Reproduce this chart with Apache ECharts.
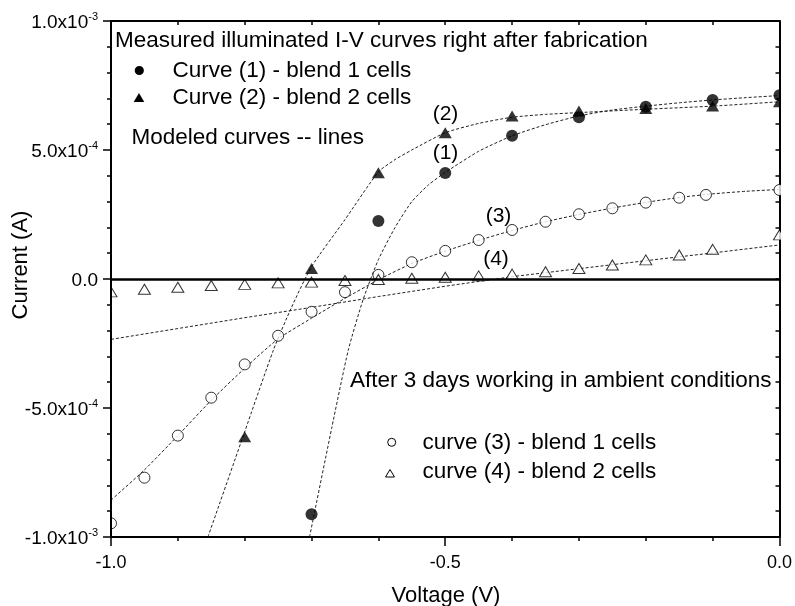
<!DOCTYPE html>
<html>
<head>
<meta charset="utf-8">
<script src="https://cdn.jsdelivr.net/npm/echarts@6/dist/echarts.min.js"></script>
<style>
html,body{margin:0;padding:0;background:#fff;}
#chart{width:795px;height:606px;}
</style>
</head>
<body>
<div id="chart"></div>
<script>
// Units: current values are in mA (x1e-3 A); converted to A below.
const UNIT = 1e-3;

// Measured curve (1) - blend 1 cells (filled circles)
const c1V = [-0.7, -0.6, -0.5, -0.4, -0.3, -0.2, -0.1, 0];
const c1I = [-0.912, 0.225, 0.411, 0.555, 0.627, 0.668, 0.694, 0.712];

// Measured curve (2) - blend 2 cells (filled triangles)
const c2V = [-0.8, -0.7, -0.6, -0.5, -0.4, -0.3, -0.2, -0.1, 0];
const c2I = [-0.611, 0.041, 0.412, 0.567, 0.632, 0.651, 0.661, 0.671, 0.687];

// Curve (3) - blend 1 cells after 3 days (open circles)
const c3V = [-1.0, -0.95, -0.9, -0.85, -0.8, -0.75, -0.7, -0.65, -0.6, -0.55, -0.5, -0.45, -0.4, -0.35, -0.3, -0.25, -0.2, -0.15, -0.11, 0];
const c3I = [-0.947, -0.770, -0.607, -0.460, -0.331, -0.220, -0.127, -0.051, 0.016, 0.065, 0.109, 0.151, 0.190, 0.222, 0.251, 0.274, 0.296, 0.315, 0.326, 0.345];

// Curve (4) - blend 2 cells after 3 days (open triangles)
const c4V = [-1.0, -0.95, -0.9, -0.85, -0.8, -0.75, -0.7, -0.65, -0.6, -0.55, -0.5, -0.45, -0.4, -0.35, -0.3, -0.25, -0.2, -0.15, -0.1, 0];
const c4I = [-0.050, -0.040, -0.032, -0.025, -0.021, -0.015, -0.012, -0.006, -0.002, 0.003, 0.007, 0.012, 0.019, 0.028, 0.041, 0.054, 0.074, 0.093, 0.115, 0.171];

// Modeled curves (dashed lines)
const m1V = [-0.703, -0.67, -0.645, -0.623, -0.6, -0.575, -0.55, -0.525, -0.5, -0.45, -0.4, -0.35, -0.3, -0.25, -0.2, -0.15, -0.1, -0.05, 0];
const m1I = [-1.0, -0.58, -0.275, -0.081, 0.075, 0.2, 0.3, 0.365, 0.413, 0.495, 0.555, 0.598, 0.632, 0.655, 0.670, 0.683, 0.694, 0.703, 0.711];

const m2V = [-0.855, -0.8, -0.757, -0.73, -0.7, -0.65, -0.6, -0.575, -0.55, -0.5, -0.45, -0.4, -0.35, -0.3, -0.2, -0.1, 0];
const m2I = [-1.0, -0.592, -0.275, -0.11, 0.048, 0.23, 0.415, 0.463, 0.500, 0.567, 0.603, 0.627, 0.638, 0.645, 0.658, 0.670, 0.687];

const m3V = [-1.0, -0.95, -0.9, -0.85, -0.8, -0.75, -0.7, -0.65, -0.6, -0.55, -0.5, -0.45, -0.4, -0.35, -0.3, -0.25, -0.2, -0.15, -0.1, -0.05, 0];
const m3I = [-0.857, -0.74, -0.607, -0.47, -0.346, -0.232, -0.152, -0.075, -0.003, 0.060, 0.108, 0.150, 0.188, 0.222, 0.250, 0.275, 0.297, 0.316, 0.330, 0.340, 0.347];

const m4V = [-1.0, -0.9, -0.8, -0.7, -0.6, -0.5, -0.4, -0.3, -0.2, -0.1, 0];
const m4I = [-0.234, -0.192, -0.150, -0.110, -0.068, -0.028, 0.009, 0.040, 0.071, 0.101, 0.132];

// Axis tick labels
const xTickLabels = ['-1.0', '-0.5', '0.0'];
const yTickBase = ['-1.0x10', '-5.0x10', '0.0', '5.0x10', '1.0x10'];
const yTickExp  = ['-3', '-4', '', '-4', '-3'];

// Text
const titleText = 'Measured illuminated I-V curves right after fabrication';
const leg1Text = 'Curve (1) - blend 1 cells';
const leg2Text = 'Curve (2) - blend 2 cells';
const modelText = 'Modeled curves -- lines';
const afterText = 'After 3 days working in ambient conditions';
const leg3Text = 'curve (3) - blend 1 cells';
const leg4Text = 'curve (4) - blend 2 cells';

function pts(vs, is) { return vs.map((v, k) => [v, is[k] * UNIT]); }

const FONT = '"Liberation Sans", Arial, Helvetica, sans-serif';
const chart = echarts.init(document.getElementById('chart'), null, {renderer: 'canvas'});

const dashStyle = {color: '#222', width: 1, type: [3, 2]};
function modelSeries(name, vs, is, sm) {
  return {
    name: name, type: 'line', data: pts(vs, is), showSymbol: false, symbol: 'none',
    smooth: sm, clip: true, silent: true,
    lineStyle: dashStyle, z: 2
  };
}

function txt(t, x, y, size, align, extra) {
  return Object.assign({
    type: 'text', x: x, y: y, z: 120, silent: true,
    style: {text: t, font: size + 'px ' + FONT, fill: '#000', align: align || 'left', verticalAlign: 'middle'}
  }, extra || {});
}

const tickLine = {color: '#000', width: 1.5};
const option = {
  backgroundColor: '#fff',
  animation: false,
  textStyle: {fontFamily: FONT},
  grid: {left: 111, right: 15, top: 21, bottom: 69, containLabel: false},
  xAxis: [{
    type: 'value', position: 'bottom', min: -1, max: 0, interval: 0.5,
    axisLine: {show: true, onZero: false, lineStyle: {color: '#000', width: 2}},
    axisTick: {show: true, inside: false, length: 9, lineStyle: tickLine},
    minorTick: {show: true, splitNumber: 5, length: 4, lineStyle: tickLine},
    splitLine: {show: false}, minorSplitLine: {show: false},
    axisLabel: {show: true, fontSize: 18, color: '#000', margin: 17, fontFamily: FONT,
      formatter: (v, i) => xTickLabels[i]}
  }, {
    type: 'value', position: 'top', min: -1, max: 0, interval: 0.5,
    axisLine: {show: true, onZero: false, lineStyle: {color: '#000', width: 2}},
    axisTick: {show: true, inside: true, length: 4, lineStyle: tickLine},
    minorTick: {show: true, splitNumber: 5, length: 4, lineStyle: tickLine},
    splitLine: {show: false}, axisLabel: {show: false}
  }],
  yAxis: [{
    type: 'value', position: 'left', min: -1e-3, max: 1e-3, interval: 5e-4, z: 50,
    axisLine: {show: true, onZero: false, lineStyle: {color: '#000', width: 2}},
    axisTick: {show: true, inside: false, length: 8, lineStyle: tickLine},
    minorTick: {show: true, splitNumber: 5, length: 4, lineStyle: tickLine},
    splitLine: {show: false},
    axisLabel: {show: true, margin: 13, color: '#000',
      formatter: (v, i) => yTickExp[i] ? '{m|' + yTickBase[i] + '}{s|' + yTickExp[i] + '}' : '{m|' + yTickBase[i] + '}',
      rich: {
        m: {fontSize: 19, fontFamily: FONT, color: '#000', lineHeight: 20, padding: [4, 0, 0, 0]},
        s: {fontSize: 11, fontFamily: FONT, color: '#000', verticalAlign: 'top', lineHeight: 20, padding: [0, 0, 4, 0]}
      }}
  }, {
    type: 'value', position: 'right', min: -1e-3, max: 1e-3, interval: 5e-4,
    axisLine: {show: true, onZero: false, lineStyle: {color: '#000', width: 2}},
    axisTick: {show: true, inside: true, length: 4, lineStyle: tickLine},
    minorTick: {show: true, splitNumber: 5, length: 4, lineStyle: tickLine},
    splitLine: {show: false}, axisLabel: {show: false}
  }],
  series: [
    Object.assign(modelSeries('model 1', m1V, m1I, 0.2), {
      markLine: {silent: true, symbol: ['none', 'none'], label: {show: false},
        lineStyle: {color: '#000', width: 2.5, type: 'solid'}, data: [{yAxis: 0}]}
    }),
    modelSeries('model 2', m2V, m2I, 0.2),
    modelSeries('model 3', m3V, m3I, 0.2),
    modelSeries('model 4', m4V, m4I, false),
    {name: leg1Text, type: 'scatter', data: pts(c1V, c1I), symbol: 'circle', symbolSize: 12,
      itemStyle: {color: '#000'}, z: 5, silent: true},
    {name: leg2Text, type: 'scatter', data: pts(c2V, c2I), symbol: 'triangle', symbolSize: [13, 11],
      itemStyle: {color: '#000'}, z: 5, silent: true},
    {name: leg3Text, type: 'scatter', data: pts(c3V, c3I), symbol: 'circle', symbolSize: 11,
      itemStyle: {color: '#fff', borderColor: '#000', borderWidth: 1}, z: 4, silent: true},
    {name: leg4Text, type: 'scatter', data: pts(c4V, c4I), symbol: 'triangle', symbolSize: [12, 10],
      itemStyle: {color: '#fff', borderColor: '#000', borderWidth: 1}, z: 4, silent: true}
  ],
  graphic: [
    // masks that cut the edge markers at the frame, like the original plot
    {type: 'rect', z: 100, silent: true, shape: {x: 781, y: 22, width: 14, height: 514}, style: {fill: '#fff'}},
    {type: 'rect', z: 100, silent: true, shape: {x: 98, y: 284, width: 12, height: 17}, style: {fill: '#fff'}},
    {type: 'rect', z: 100, silent: true, shape: {x: 98, y: 515, width: 12, height: 17}, style: {fill: '#fff'}},
    txt(titleText, 115, 41, 22.5),
    {type: 'circle', z: 120, silent: true, shape: {cx: 139.3, cy: 70.5, r: 4.6}, style: {fill: '#000'}},
    txt(leg1Text, 172.5, 71, 22.5),
    {type: 'polygon', z: 120, silent: true, shape: {points: [[139, 93], [144.3, 102], [133.7, 102]]}, style: {fill: '#000'}},
    txt(leg2Text, 172.5, 98, 22.5),
    txt(modelText, 131.5, 137.5, 22.5),
    txt('(2)', 445.5, 114.5, 21, 'center'),
    txt('(1)', 445.5, 153, 21, 'center'),
    txt('(3)', 498.5, 216.5, 21, 'center'),
    txt('(4)', 496, 259, 21, 'center'),
    txt(afterText, 350, 381, 22.5),
    {type: 'circle', z: 120, silent: true, shape: {cx: 391.7, cy: 442.3, r: 4}, style: {fill: '#fff', stroke: '#000', lineWidth: 1}},
    txt(leg3Text, 422.5, 442.5, 22.5),
    {type: 'polygon', z: 120, silent: true, shape: {points: [[390, 469.5], [394.5, 477], [385.5, 477]]}, style: {fill: '#fff', stroke: '#000', lineWidth: 1}},
    txt(leg4Text, 422.5, 472, 22.5),
    txt('Voltage (V)', 446, 596, 22, 'center'),
    txt('Current (A)', 21, 265, 22, 'center', {rotation: Math.PI / 2})
  ]
};
chart.setOption(option);
</script>
</body>
</html>
